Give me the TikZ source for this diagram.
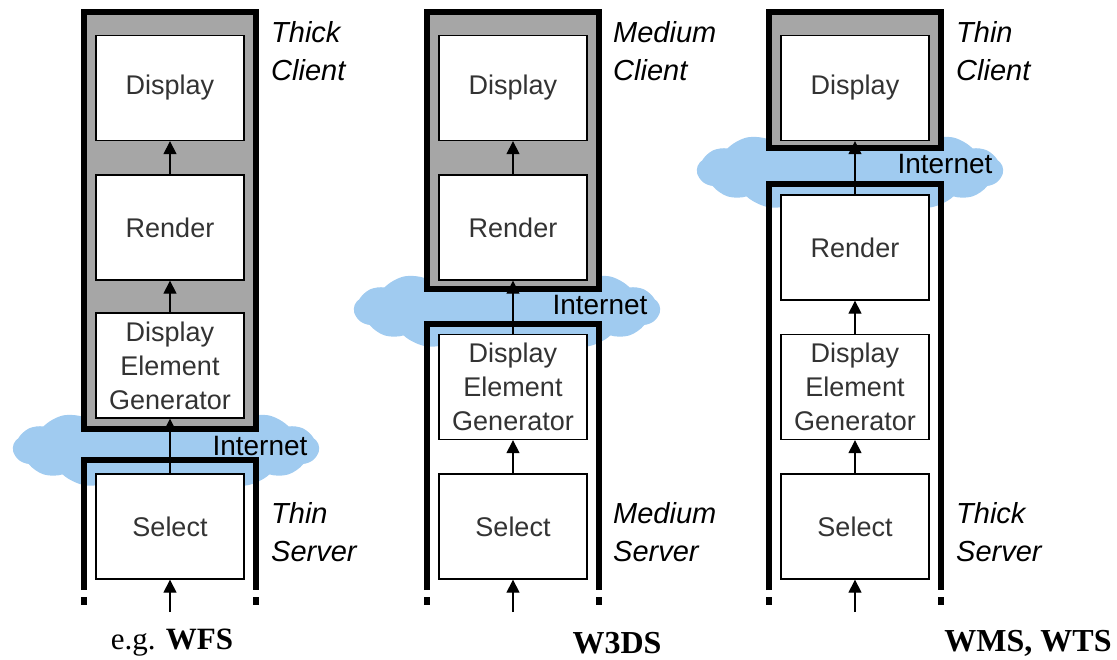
\documentclass[tikz,border=0pt]{standalone}
\usepackage{fontspec}
\setmainfont{Liberation Sans}
\newfontfamily\timesfam{Liberation Serif}
\usetikzlibrary{arrows.meta,shapes.symbols}
\definecolor{netblue}{RGB}{160,203,240}
\definecolor{tiergray}{RGB}{166,166,166}
\begin{document}
\begin{tikzpicture}[x=1pt, y=-1pt, line join=miter, >={Triangle[width=13pt,length=13pt]},
	box/.style={draw, line width=1.3pt, fill=white, text=black!80, minimum width=148pt, minimum height=105pt, font=\fontsize{27}{34}\selectfont, align=center, inner sep=0pt},
	client/.style={draw, line width=5.5pt, fill=tiergray},
	server/.style={line width=5.5pt},
	net/.style={cloud, cloud puffs=17, cloud puff arc=70, aspect=3.6, fill=netblue, minimum width=306pt, minimum height=88pt, inner sep=0pt},
	tier/.style={font=\fontsize{29}{38}\selectfont\itshape, align=left, anchor=north west, inner sep=0pt},
	flow/.style={->, line width=1.2pt}]
		\useasboundingbox (0,0) rectangle (1117,659);
		% clouds
		\node[net] (net1) at (166,448) {};
		\node[net] (net2) at (507,309) {};
		\node[net] (net3) at (850,170) {};
		\node[font=\fontsize{28}{30}\selectfont] (lab1) at (260,446) {Internet};
		\node[font=\fontsize{28}{30}\selectfont] (lab2) at (600,305) {Internet};
		\node[font=\fontsize{28}{30}\selectfont] (lab3) at (945,164) {Internet};
		% client and server tiers
		\draw[client] (84,12) rectangle (256,429);
		\draw[client] (427,12) rectangle (599,289);
		\draw[client] (769,12) rectangle (941,148);
		\foreach \x/\t in {84/460, 427/324, 769/184}{
			\draw[server] (\x,590) |- ({\x+172},\t) -- ({\x+172},590);
			\draw[server] (\x,597) -- (\x,605) ({\x+172},597) -- ({\x+172},605);
		}
		% boxes
		\node[box] (disp1) at (170,88) {Display};
		\node[box] (rend1) at (170,227.5) {Render};
		\node[box] (gen1) at (170,365.5) {Display\\Element\\Generator};
		\node[box] (disp2) at (513,88) {Display};
		\node[box] (rend2) at (513,227.5) {Render};
		\node[box] (gen2) at (513,387) {Display\\Element\\Generator};
		\node[box] (disp3) at (855,88) {Display};
		\node[box] (rend3) at (855,247.5) {Render};
		\node[box] (gen3) at (855,387) {Display\\Element\\Generator};
		\foreach \i/\x in {1/170, 2/513, 3/855}{
			\node[box] (sel\i) at (\x,526.5) {Select};
			\coordinate (in\i) at (\x,612);
			\draw[flow] (in\i) -- (sel\i.south);
			\draw[flow] (sel\i.north) -- (gen\i.south);
			\draw[flow] (gen\i.north) -- (rend\i.south);
			\draw[flow] (rend\i.north) -- (disp\i.south);
		}
		% labels
		\node[tier] (cl1) at (271,21) {Thick\\Client};
		\node[tier] (cl2) at (613,21) {Medium\\Client};
		\node[tier] (cl3) at (956,21) {Thin\\Client};
		\node[tier] (sv1) at (271,502) {Thin\\Server};
		\node[tier] (sv2) at (613,502) {Medium\\Server};
		\node[tier] (sv3) at (956,502) {Thick\\Server};
		\node[font=\timesfam\fontsize{31}{33}\selectfont] (ex1) at (172,643) {e.g. \textbf{WFS}};
		\node[font=\timesfam\fontsize{32}{33}\selectfont] (ex2) at (617,643) {\textbf{W3DS}};
		\node[font=\timesfam\fontsize{32}{33}\selectfont] (ex3) at (1028,643) {\textbf{WMS, WTS}};
	\end{tikzpicture}
\end{document}
